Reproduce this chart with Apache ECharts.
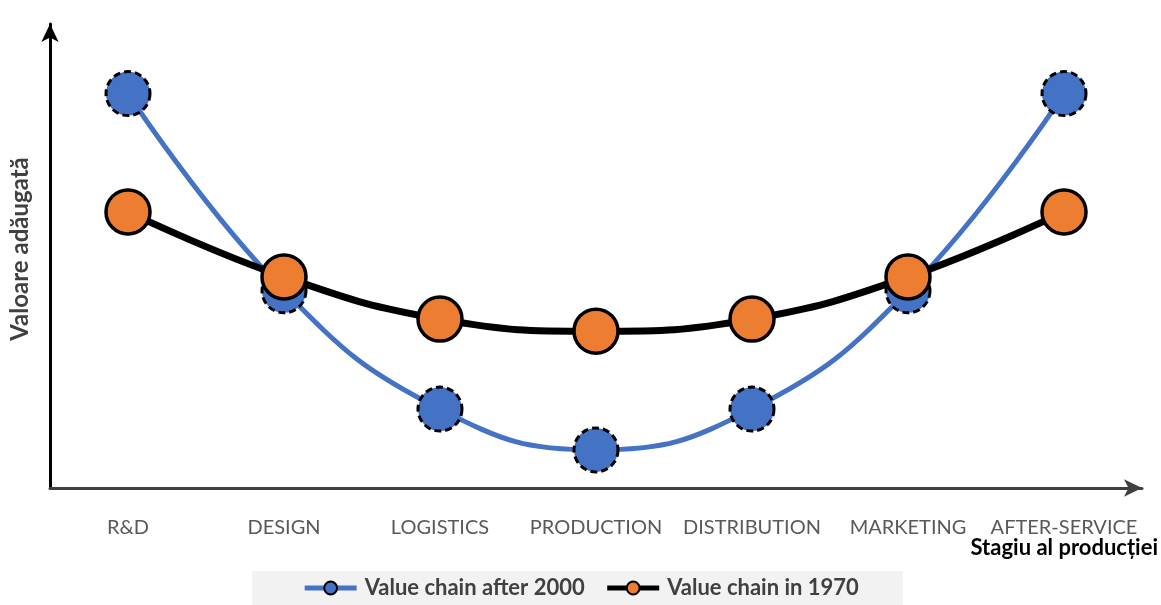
<!DOCTYPE html>
<html>
<head>
<meta charset="utf-8">
<script src="https://cdn.jsdelivr.net/npm/echarts@6/dist/echarts.min.js"></script>
<style>
  html, body { margin: 0; padding: 0; background: #fff; }
  #chart { width: 1161px; height: 605px; }
</style>
</head>
<body>
<div id="chart"></div>
<script>
// Stages of production (smile curve)
const stages = ['R&D', 'DESIGN', 'LOGISTICS', 'PRODUCTION', 'DISTRIBUTION', 'MARKETING', 'AFTER-SERVICE'];
// Relative value added per stage
const after2000 = [85, 42.5, 17, 8.2, 17, 42.5, 85];
const in1970 = [59.5, 45.5, 36.4, 33.8, 36.4, 45.5, 59.5];

const FONT = 'Lato, "Open Sans", sans-serif';

const chart = echarts.init(document.getElementById('chart'));
chart.setOption({
  animation: false,
  grid: { left: 50, right: 19, top: 24, bottom: 117, outerBoundsMode: 'none', containLabel: false },
  xAxis: {
    type: 'category',
    data: stages,
    boundaryGap: true,
    axisLine: {
      show: true,
      lineStyle: { color: '#404040', width: 3 },
      symbol: ['none', 'arrow'],
      symbolSize: [13, 18]
    },
    axisTick: { show: false },
    axisLabel: { interval: 0, color: '#595959', fontSize: 20, fontFamily: FONT, margin: 30 },
    splitLine: { show: false }
  },
  yAxis: {
    type: 'value',
    min: 0,
    max: 100,
    axisLine: {
      show: true,
      lineStyle: { color: '#000', width: 3 },
      symbol: ['none', 'arrow'],
      symbolSize: [13, 18]
    },
    axisTick: { show: false },
    axisLabel: { show: false },
    splitLine: { show: false }
  },
  legend: {
    left: 'center',
    bottom: 0,
    backgroundColor: '#f2f2f2',
    padding: [6, 44, 6, 50],
    itemGap: 20,
    itemWidth: 52,
    itemHeight: 16,
    textStyle: { color: '#404040', fontSize: 22, fontWeight: 'bold', fontFamily: FONT, padding: [0, 0, 0, 3] },
    data: [
      { name: 'Value chain after 2000', lineStyle: { width: 5 } },
      { name: 'Value chain in 1970', lineStyle: { width: 5 } }
    ]
  },
  graphic: [
    {
      type: 'text',
      x: 20,
      y: 249,
      rotation: Math.PI / 2,
      style: {
        text: 'Valoare adăugată',
        fill: '#404040',
        font: 'bold 24px ' + FONT,
        align: 'center',
        verticalAlign: 'middle'
      }
    },
    {
      type: 'text',
      right: 3,
      top: 537,
      style: {
        text: 'Stagiu al producției',
        fill: '#000',
        font: 'bold 22px ' + FONT
      }
    }
  ],
  series: [
    {
      name: 'Value chain after 2000',
      type: 'line',
      data: after2000,
      smooth: 0.45,
      symbol: 'circle',
      symbolSize: 44,
      lineStyle: { color: '#4472C4', width: 5 },
      itemStyle: { color: '#4472C4', borderColor: '#000', borderWidth: 3, borderType: [7, 4] },
      z: 2
    },
    {
      name: 'Value chain in 1970',
      type: 'line',
      data: in1970,
      smooth: 0.45,
      symbol: 'circle',
      symbolSize: 44,
      lineStyle: { color: '#000', width: 7 },
      itemStyle: { color: '#ED7D31', borderColor: '#000', borderWidth: 3.5 },
      z: 3
    }
  ]
});
</script>
</body>
</html>
